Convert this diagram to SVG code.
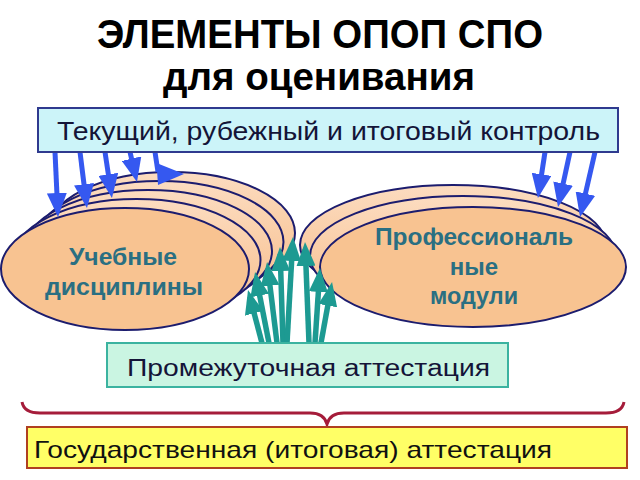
<svg xmlns="http://www.w3.org/2000/svg" width="640" height="480" viewBox="0 0 640 480">
  <style>
    text { font-family: "Liberation Sans", Arial, sans-serif; }
    .title { font-weight: bold; fill: #000; text-anchor: middle; }
    .ell { stroke: #1c1c6e; stroke-width: 2; fill: url(#peach); }
    .front { fill: #f8c391; }
    .ellTxt { font-weight: bold; fill: #2a6f82; font-size: 24px; text-anchor: middle; }
    .blue { stroke: #3558f0; stroke-width: 5; fill: none; marker-end: url(#bh); }
    .teal { stroke: #1d9a92; stroke-width: 5.5; fill: none; marker-end: url(#th); }
    .boxTxt { fill: #141438; }
  </style>
  <defs>
    <linearGradient id="peach" x1="0" y1="0" x2="0" y2="1">
      <stop offset="0" stop-color="#fcdcc0"/>
      <stop offset="0.6" stop-color="#f9c99f"/>
      <stop offset="1" stop-color="#f8c391"/>
    </linearGradient>
    <marker id="bh" markerUnits="userSpaceOnUse" viewBox="0 0 24 20" markerWidth="24" markerHeight="20" refX="17" refY="10" orient="auto">
      <path d="M0,0 L24,10 L0,20 z" fill="#3558f0"/>
    </marker>
    <marker id="th" markerUnits="userSpaceOnUse" viewBox="0 0 24 19" markerWidth="24" markerHeight="19" refX="17" refY="9.5" orient="auto">
      <path d="M0,0 L24,9.5 L0,19 z" fill="#1d9a92"/>
    </marker>
  </defs>
  <rect width="640" height="480" fill="#fff"/>

  <g id="title">
    <text class="title" x="320" y="48" font-size="40" textLength="446" lengthAdjust="spacingAndGlyphs">ЭЛЕМЕНТЫ ОПОП СПО</text>
    <text class="title" x="319" y="90" font-size="38" textLength="312" lengthAdjust="spacingAndGlyphs">для оценивания</text>
  </g>

  <g id="node-disciplines">
    <ellipse class="ell" cx="171" cy="233" rx="124" ry="61"/>
    <ellipse class="ell" cx="159.5" cy="242" rx="124" ry="61"/>
    <ellipse class="ell" cx="148" cy="251" rx="124" ry="61"/>
    <ellipse class="ell" cx="136.5" cy="260" rx="124" ry="61"/>
    <ellipse class="ell front" cx="125" cy="269" rx="124" ry="61"/>
    <text class="ellTxt" x="123" y="265" textLength="108" lengthAdjust="spacingAndGlyphs">Учебные</text>
    <text class="ellTxt" x="124" y="295" textLength="158" lengthAdjust="spacingAndGlyphs">дисциплины</text>
  </g>

  <g id="node-modules">
    <ellipse class="ell" cx="453" cy="245" rx="153" ry="60"/>
    <ellipse class="ell" cx="463" cy="256" rx="153" ry="60"/>
    <ellipse class="ell front" cx="473" cy="267" rx="153" ry="60"/>
    <text class="ellTxt" x="474" y="245" textLength="198" lengthAdjust="spacingAndGlyphs">Профессиональ</text>
    <text class="ellTxt" x="474" y="275">ные</text>
    <text class="ellTxt" x="474" y="304" textLength="88" lengthAdjust="spacingAndGlyphs">модули</text>
  </g>

  <g id="connectors">
    <path class="blue" d="M55,152 L57.7,210"/>
    <path class="blue" d="M80,152 L86.1,201.1"/>
    <path class="blue" d="M105,152 L110.9,191.1"/>
    <path class="blue" d="M130,152 L135.4,175.2"/>
    <path d="M155,152 L158,172" stroke="#3558f0" stroke-width="5" fill="none"/>
    <polygon points="156.5,163 158,185 184,174" fill="#3558f0"/>
    <path class="blue" d="M545,152 L539,191.1"/>
    <path class="blue" d="M570,152 L559.5,200.2"/>
    <path class="blue" d="M595,152 L581.6,210.2"/>

    <path class="teal" d="M262,343 L249.8,296.8"/>
    <path class="teal" d="M269,343 L256.4,278.9"/>
    <path class="teal" d="M277,343 L267.9,268.9"/>
    <path class="teal" d="M283,343 L280.2,254"/>
    <path class="teal" d="M287,343 L292.6,244"/>
    <path class="teal" d="M309,343 L305.3,249"/>
    <path class="teal" d="M315,343 L319.5,275"/>
    <path class="teal" d="M321,343 L330.8,288.9"/>

    <path d="M22,402 Q24,413 40,413 L310,413 Q324,413 327,424 Q330,413 344,413 L606,413 Q622,413 624,402" fill="none" stroke="#a51c3a" stroke-width="3"/>
  </g>

  <g id="node-control">
    <rect x="38" y="108" width="580" height="44" fill="#ccf4f9" stroke="#2f3a8f" stroke-width="2"/>
    <text class="boxTxt" x="328.5" y="140" font-size="26" text-anchor="middle" textLength="543" lengthAdjust="spacingAndGlyphs">Текущий, рубежный и итоговый контроль</text>
  </g>

  <g id="node-interim">
    <rect x="107" y="343" width="401" height="44" fill="#caf5e2" stroke="#3bb3a0" stroke-width="2"/>
    <text class="boxTxt" x="308.5" y="376" font-size="23" text-anchor="middle" textLength="363" lengthAdjust="spacingAndGlyphs">Промежуточная аттестация</text>
  </g>

  <g id="node-state">
    <rect x="27" y="427" width="600" height="41" fill="#ffff66" stroke="#b04020" stroke-width="2"/>
    <text x="34" y="458" font-size="24" fill="#111" textLength="518" lengthAdjust="spacingAndGlyphs">Государственная (итоговая) аттестация</text>
  </g>
</svg>
